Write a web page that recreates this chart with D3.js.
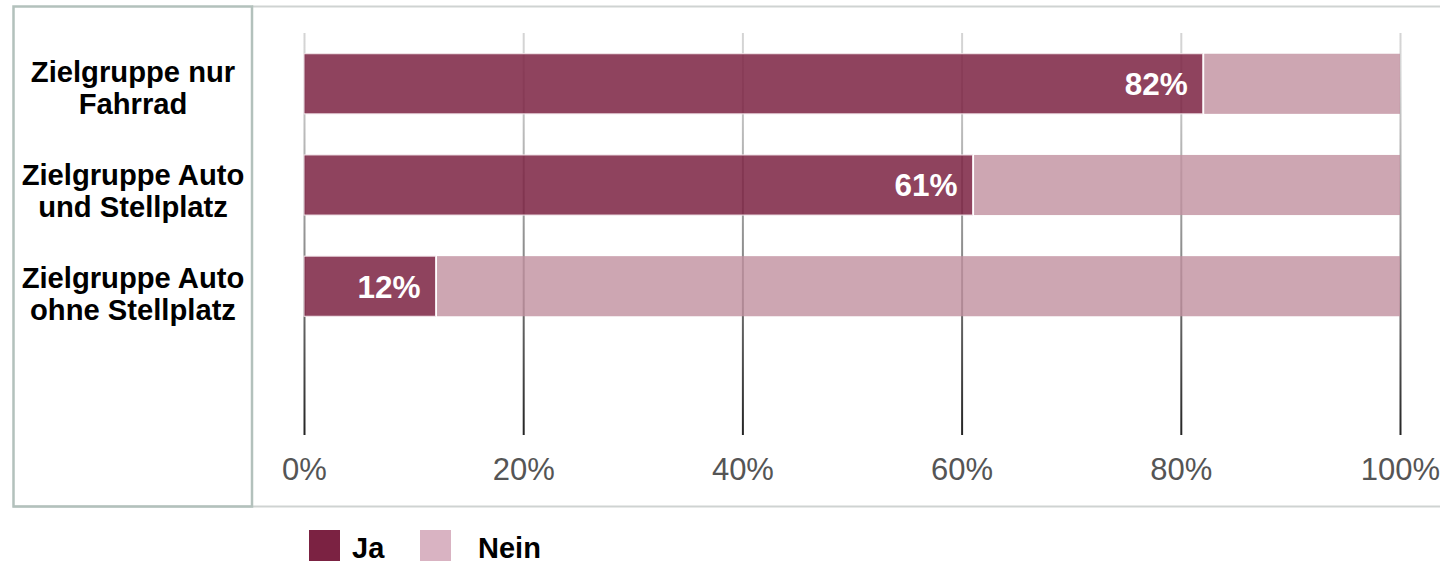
<!DOCTYPE html>
<html><head><meta charset="utf-8">
<script src="https://cdn.jsdelivr.net/npm/d3@7"></script>
<style>html,body{margin:0;padding:0;background:#fff;overflow:hidden}</style>
</head><body>
<svg id="chart" width="1440" height="563"></svg>
<script>
const categories = [["Zielgruppe nur","Fahrrad"],["Zielgruppe Auto","und Stellplatz"],["Zielgruppe Auto","ohne Stellplatz"]];
const jaValues = [82, 61, 12];
const neinValues = [18, 39, 88];
const tickValues = [0, 20, 40, 60, 80, 100];
const seriesNames = ["Ja", "Nein"];

const svg = d3.select("#chart");
const font = "'Liberation Sans', Arial, sans-serif";

const x = d3.scaleLinear().domain([0, 100]).range([304, 1400]);
const y = d3.scaleBand().domain(d3.range(categories.length)).range([33.5, 336.5]).paddingInner(0.406).paddingOuter(0.2);
const yLab = d3.scalePoint().domain(d3.range(categories.length)).range([88, 294]);

// frame
svg.append("line").attr("x1", 252).attr("x2", 1440).attr("y1", 6.5).attr("y2", 6.5).attr("stroke", "#cfd3d2").attr("stroke-width", 2);
svg.append("line").attr("x1", 13).attr("x2", 1440).attr("y1", 506.5).attr("y2", 506.5).attr("stroke", "#cfd3d2").attr("stroke-width", 2);
svg.append("rect").attr("x", 13.5).attr("y", 6.5).attr("width", 238.5).attr("height", 500).attr("fill", "none").attr("stroke", "#b3c1bc").attr("stroke-width", 2.5);

// gradient for grid lines
const defs = svg.append("defs");
const grad = defs.append("linearGradient").attr("id", "gridGrad").attr("gradientUnits", "userSpaceOnUse")
  .attr("x1", 0).attr("x2", 0).attr("y1", 33).attr("y2", 435);
grad.append("stop").attr("offset", "0%").attr("stop-color", "#d4d4d4");
grad.append("stop").attr("offset", "45%").attr("stop-color", "#8f8f8f");
grad.append("stop").attr("offset", "100%").attr("stop-color", "#111");

// axis (grid + labels)
const axis = d3.axisBottom(x).tickValues(tickValues).tickSize(402).tickPadding(24).tickFormat(d => d + "%");
const ag = svg.append("g").attr("transform", "translate(0,33)").call(axis);
ag.select(".domain").remove();
ag.selectAll(".tick line").attr("stroke", "url(#gridGrad)").attr("stroke-width", 2);
ag.selectAll(".tick text").attr("font-family", font).attr("font-size", 31).attr("fill", "#555").attr("dy", "0.68em");

// bars
const rows = svg.append("g").selectAll("g").data(categories).join("g");
rows.append("rect")
  .attr("x", (d, i) => x(jaValues[i]) + 1.5)
  .attr("y", (d, i) => y(i))
  .attr("width", (d, i) => x(jaValues[i] + neinValues[i]) - x(jaValues[i]) - 1.5)
  .attr("height", y.bandwidth())
  .attr("fill", "#c0909f").attr("fill-opacity", 0.8);
rows.append("rect")
  .attr("x", x(0))
  .attr("y", (d, i) => y(i))
  .attr("width", (d, i) => x(jaValues[i]) - x(0))
  .attr("height", y.bandwidth())
  .attr("fill", "#7b2242").attr("fill-opacity", 0.85)
  .attr("stroke", "#f3e6eb").attr("stroke-width", 1);
rows.append("text")
  .attr("x", (d, i) => x(jaValues[i]) - 15)
  .attr("y", (d, i) => y(i) + y.bandwidth() / 2)
  .attr("dy", "0.36em")
  .attr("text-anchor", "end")
  .attr("font-family", font).attr("font-weight", "bold").attr("font-size", 31.5).attr("fill", "#fff")
  .text((d, i) => jaValues[i] + "%");

// category labels
rows.append("text")
  .attr("text-anchor", "middle")
  .attr("font-family", font).attr("font-weight", "bold").attr("font-size", 29.2).attr("fill", "#000")
  .each(function(d, i) {
    const t = d3.select(this);
    const cy = yLab(i);
    d.forEach((line, k) => {
      t.append("tspan").attr("x", 133).attr("y", cy + (k - 0.5) * 32.5 + 10).text(line);
    });
  });

// legend
const legColors = ["#7b2242", "#d9b3c2"];
const legX = [309, 420];
const legTextX = [352, 478];
const leg = svg.append("g").selectAll("g").data(seriesNames).join("g");
leg.append("rect").attr("x", (d, i) => legX[i]).attr("y", 530).attr("width", 31).attr("height", 31).attr("fill", (d, i) => legColors[i]);
leg.append("text").attr("x", (d, i) => legTextX[i]).attr("y", 558)
  .attr("font-family", font).attr("font-weight", "bold").attr("font-size", 29).attr("fill", "#000").text(d => d);
</script>
</body></html>
